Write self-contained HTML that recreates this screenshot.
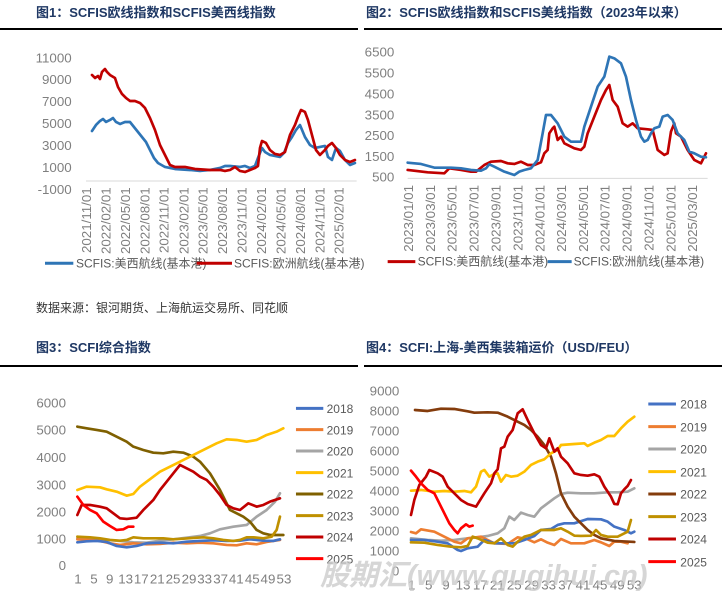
<!DOCTYPE html>
<html><head><meta charset="utf-8"><style>
body{margin:0;width:722px;height:599px;background:#fff;overflow:hidden}
svg{display:block}
text{font-family:"Liberation Sans","Noto Sans CJK SC",sans-serif}
.t{font-weight:bold;fill:#1f3864;font-size:13px}
.ax{fill:#7f7f7f;font-size:40px}
.lg{fill:#595959;font-size:36px}
polyline{fill:none;stroke-width:8;stroke-linejoin:round;stroke-linecap:round}
</style></head><body>
<svg width="722" height="599" viewBox="0 0 722 599">
<text x="36" y="17" class="t">图1：SCFIS欧线指数和SCFIS美西线指数</text>
<text x="366" y="17" class="t">图2：SCFIS欧线指数和SCFIS美线指数（2023年以来）</text>
<rect x="0" y="28" width="358" height="2" fill="#000"/>
<rect x="364" y="28" width="358" height="2" fill="#000"/>
<text x="36" y="312" font-size="12" fill="#333">数据来源：银河期货、上海航运交易所、同花顺</text>
<text x="36" y="352" class="t">图3：SCFI综合指数</text>
<text x="366" y="352" class="t">图4：SCFI:上海-美西集装箱运价（USD/FEU）</text>
<rect x="0" y="365" width="358" height="2" fill="#000"/>
<rect x="364" y="365" width="358" height="2" fill="#000"/>

<!-- Panel 1 -->
<g transform="scale(0.3333)">
<g class="ax" text-anchor="end">
<text x="215" y="188">11000</text><text x="215" y="252">9000</text><text x="215" y="318">7000</text><text x="215" y="384">5000</text><text x="215" y="450">3000</text><text x="215" y="516">1000</text><text x="215" y="582">-1000</text>
</g>
<line x1="258" y1="543" x2="1070" y2="543" stroke="#d9d9d9" stroke-width="3"/>
<g class="ax" text-anchor="end" font-size="38">
<text transform="translate(273,562) rotate(-90)">2021/11/01</text>
<text transform="translate(331,562) rotate(-90)">2022/02/01</text>
<text transform="translate(390,562) rotate(-90)">2022/05/01</text>
<text transform="translate(448,562) rotate(-90)">2022/08/01</text>
<text transform="translate(506,562) rotate(-90)">2022/11/01</text>
<text transform="translate(565,562) rotate(-90)">2023/02/01</text>
<text transform="translate(623,562) rotate(-90)">2023/05/01</text>
<text transform="translate(681,562) rotate(-90)">2023/08/01</text>
<text transform="translate(740,562) rotate(-90)">2023/11/01</text>
<text transform="translate(798,562) rotate(-90)">2024/02/01</text>
<text transform="translate(856,562) rotate(-90)">2024/05/01</text>
<text transform="translate(915,562) rotate(-90)">2024/08/01</text>
<text transform="translate(973,562) rotate(-90)">2024/11/01</text>
<text transform="translate(1031,562) rotate(-90)">2025/02/01</text>
</g>
<polyline stroke="#2e75b6" points="276,393 288,375 300,363 309,357 318,366 330,360 339,354 348,366 360,372 375,366 390,366 402,381 414,396 426,411 438,426 450,450 462,474 474,489 495,501 525,507 570,510 600,513 630,510 660,504 675,498 690,498 720,501 735,498 750,504 765,498 774,474 786,444 795,456 810,465 840,471 852,459 864,429 876,411 888,390 900,375 915,411 930,435 945,444 960,441 975,438 984,471 996,480 1008,444 1020,453 1035,480 1050,495 1065,489"/>
<polyline stroke="#c00000" points="276,225 285,234 294,228 300,237 306,216 315,207 321,216 330,225 345,234 354,261 366,282 378,294 390,303 405,303 420,309 435,324 450,354 465,390 480,435 495,465 510,495 525,501 555,501 585,507 630,510 660,510 675,513 690,510 705,501 720,513 735,516 750,510 765,504 774,498 780,444 786,423 798,429 810,450 825,462 840,465 855,456 870,405 885,375 894,351 903,330 915,336 924,360 936,405 948,450 960,465 975,450 984,438 996,429 1008,444 1020,465 1035,480 1050,486 1065,480"/>
<line x1="135" y1="790" x2="220" y2="790" stroke="#2e75b6" stroke-width="9"/>
<text x="228" y="802" class="lg">SCFIS:美西航线(基本港)</text>
<line x1="590" y1="790" x2="696" y2="790" stroke="#c00000" stroke-width="9"/>
<text x="702" y="802" class="lg">SCFIS:欧洲航线(基本港)</text>
</g>

<!-- Panel 2 -->
<g transform="translate(361,0) scale(0.3333)">
<g class="ax" text-anchor="end">
<text x="100" y="170">6500</text><text x="100" y="233">5500</text><text x="100" y="296">4500</text><text x="100" y="358">3500</text><text x="100" y="420">2500</text><text x="100" y="483">1500</text><text x="100" y="545">500</text>
</g>
<line x1="140" y1="535" x2="1040" y2="535" stroke="#d9d9d9" stroke-width="3"/>
<g class="ax" text-anchor="end" font-size="38">
<text transform="translate(156,555) rotate(-90)">2023/01/01</text>
<text transform="translate(222,555) rotate(-90)">2023/03/01</text>
<text transform="translate(287,555) rotate(-90)">2023/05/01</text>
<text transform="translate(353,555) rotate(-90)">2023/07/01</text>
<text transform="translate(418,555) rotate(-90)">2023/09/01</text>
<text transform="translate(484,555) rotate(-90)">2023/11/01</text>
<text transform="translate(550,555) rotate(-90)">2024/01/01</text>
<text transform="translate(615,555) rotate(-90)">2024/03/01</text>
<text transform="translate(681,555) rotate(-90)">2024/05/01</text>
<text transform="translate(746,555) rotate(-90)">2024/07/01</text>
<text transform="translate(812,555) rotate(-90)">2024/09/01</text>
<text transform="translate(877,555) rotate(-90)">2024/11/01</text>
<text transform="translate(943,555) rotate(-90)">2025/01/01</text>
<text transform="translate(1008,555) rotate(-90)">2025/03/01</text>
</g>
<polyline stroke="#c00000" points="140,510 200,517 250,520 265,505 300,510 330,515 345,515 370,495 390,485 420,483 440,490 460,492 480,485 500,495 520,495 540,487 550,460 560,450 565,400 575,385 580,380 590,420 600,410 610,430 640,445 660,450 670,440 680,400 700,350 720,300 735,270 745,255 755,300 770,320 785,370 800,380 815,370 830,385 860,388 875,390 890,450 910,465 920,460 930,395 940,370 945,400 960,410 980,450 1000,480 1020,490 1035,460"/>
<polyline stroke="#2e75b6" points="140,488 180,492 220,503 270,503 300,505 330,510 360,512 375,505 385,493 400,500 430,515 460,525 475,515 490,510 510,505 530,480 545,400 555,345 570,345 590,370 610,410 630,425 660,425 670,380 690,320 710,260 730,230 745,170 760,175 780,190 795,230 810,300 825,360 840,410 850,425 860,420 870,400 880,385 895,380 905,350 920,345 935,360 950,400 970,420 985,455 1000,460 1020,470 1035,472"/>
<line x1="80" y1="785" x2="163" y2="785" stroke="#c00000" stroke-width="9"/>
<text x="170" y="797" class="lg">SCFIS:美西航线(基本港)</text>
<line x1="560" y1="785" x2="632" y2="785" stroke="#2e75b6" stroke-width="9"/>
<text x="638" y="797" class="lg">SCFIS:欧洲航线(基本港)</text>
</g>

<!-- Panel 3 -->
<g transform="translate(0,330) scale(0.3333)">
<g class="ax" text-anchor="end">
<text x="198" y="232">6000</text><text x="198" y="314">5000</text><text x="198" y="396">4000</text><text x="198" y="478">3000</text><text x="198" y="559">2000</text><text x="198" y="640">1000</text><text x="198" y="720">0</text>
</g>
<g class="ax" text-anchor="middle" font-size="38">
<text x="234" y="760">1</text><text x="282" y="760">5</text><text x="329" y="760">9</text><text x="377" y="760">13</text><text x="424" y="760">17</text><text x="472" y="760">21</text><text x="519" y="760">25</text><text x="567" y="760">29</text><text x="614" y="760">33</text><text x="662" y="760">37</text><text x="709" y="760">41</text><text x="757" y="760">45</text><text x="804" y="760">49</text><text x="852" y="760">53</text>
</g>
<polyline stroke="#a5a5a5" points="232,625 280,628 320,630 360,633 400,637 440,638 480,632 520,628 560,623 600,618 630,610 660,598 700,590 740,585 770,560 800,540 825,515 840,490"/>
<polyline stroke="#ed7d31" points="232,628 270,630 300,633 330,640 360,645 400,640 440,643 480,642 520,638 560,640 600,638 640,640 680,645 710,646 740,640 770,643 800,636 840,630"/>
<polyline stroke="#4472c4" points="232,637 260,634 290,633 320,636 350,648 380,652 410,648 440,640 480,638 520,640 560,635 600,633 640,631 680,633 720,632 750,628 790,632 820,633 840,628"/>
<polyline stroke="#7f6000" points="232,290 260,295 290,300 320,305 350,320 380,335 400,350 430,360 460,368 490,370 520,365 550,368 580,380 600,395 630,430 660,480 690,540 710,550 730,560 750,575 770,600 790,610 810,615 850,615"/>
<polyline stroke="#ffc000" points="232,480 260,470 300,472 320,478 350,485 380,497 400,492 420,470 440,455 460,440 480,425 510,410 540,395 560,385 590,370 620,355 650,340 680,328 710,330 740,335 770,330 800,315 830,305 850,295"/>
<polyline stroke="#bf9000" points="232,620 270,622 300,625 330,630 360,632 380,630 400,622 430,625 460,625 490,625 520,628 550,626 580,624 610,622 640,625 670,630 700,633 720,630 740,622 760,622 790,625 815,620 830,600 840,560"/>
<polyline stroke="#c00000" points="232,555 245,525 270,525 300,530 320,535 340,550 360,565 380,567 410,563 430,540 460,510 480,480 500,455 520,430 540,405 560,415 580,425 600,440 620,450 640,470 660,495 680,525 700,535 720,540 745,520 770,530 790,525 810,515 840,505"/>
<polyline stroke="#ff0000" points="232,500 250,525 270,540 290,550 310,575 330,588 350,600 370,598 385,590 400,590"/>
<g class="lg" font-size="40">
<line x1="888" y1="235" x2="970" y2="235" stroke="#4472c4" stroke-width="9"/><text x="980" y="249">2018</text>
<line x1="888" y1="299" x2="970" y2="299" stroke="#ed7d31" stroke-width="9"/><text x="980" y="313">2019</text>
<line x1="888" y1="363" x2="970" y2="363" stroke="#a5a5a5" stroke-width="9"/><text x="980" y="377">2020</text>
<line x1="888" y1="428" x2="970" y2="428" stroke="#ffc000" stroke-width="9"/><text x="980" y="442">2021</text>
<line x1="888" y1="492" x2="970" y2="492" stroke="#7f6000" stroke-width="9"/><text x="980" y="506">2022</text>
<line x1="888" y1="557" x2="970" y2="557" stroke="#bf9000" stroke-width="9"/><text x="980" y="571">2023</text>
<line x1="888" y1="621" x2="970" y2="621" stroke="#c00000" stroke-width="9"/><text x="980" y="635">2024</text>
<line x1="888" y1="686" x2="970" y2="686" stroke="#ff0000" stroke-width="9"/><text x="980" y="700">2025</text>
</g>
</g>

<!-- Panel 4 -->
<g transform="translate(361,330) scale(0.3333)">
<g class="ax" text-anchor="end">
<text x="115" y="196">9000</text><text x="115" y="256">8000</text><text x="115" y="316">7000</text><text x="115" y="376">6000</text><text x="115" y="436">5000</text><text x="115" y="496">4000</text><text x="115" y="556">3000</text><text x="115" y="616">2000</text><text x="115" y="676">1000</text><text x="115" y="736">0</text>
</g>
<g class="ax" text-anchor="middle" font-size="38">
<text x="152" y="778">1</text><text x="203" y="778">5</text><text x="255" y="778">9</text><text x="306" y="778">13</text><text x="358" y="778">17</text><text x="409" y="778">21</text><text x="460" y="778">25</text><text x="512" y="778">29</text><text x="563" y="778">33</text><text x="614" y="778">37</text><text x="666" y="778">41</text><text x="717" y="778">45</text><text x="769" y="778">49</text><text x="820" y="778">53</text>
</g>
<polyline stroke="#a5a5a5" points="150,625 200,630 240,632 280,630 320,625 350,622 380,618 410,610 430,595 445,560 460,570 480,548 500,555 520,560 540,535 560,520 580,505 600,492 620,488 660,490 700,490 740,487 770,487 800,485 820,475"/>
<polyline stroke="#ed7d31" points="150,606 165,610 180,598 220,605 250,620 280,635 300,640 320,625 360,620 400,640 440,642 470,622 500,628 520,637 540,628 560,638 580,645 600,627 630,640 670,640 700,630 720,637 745,648 760,635 780,635 800,640"/>
<polyline stroke="#4472c4" points="150,630 190,630 230,635 260,640 290,660 300,663 320,655 350,650 370,630 400,640 430,640 460,640 490,630 520,618 540,600 570,597 590,585 610,580 640,580 680,567 720,568 740,575 760,590 790,600 810,610 820,605"/>
<polyline stroke="#843c0c" points="162,240 200,243 240,236 280,237 320,244 340,248 380,247 410,248 440,260 470,275 490,285 510,300 530,320 550,345 570,380 585,430 600,490 620,530 640,560 660,580 680,600 700,615 720,625 760,633 820,636"/>
<polyline stroke="#ffc000" points="150,482 180,480 220,485 250,483 280,485 310,483 330,487 345,470 360,425 370,420 385,440 400,432 410,430 420,455 435,435 450,440 470,437 490,425 510,405 530,395 550,388 570,370 590,360 600,345 640,342 670,340 680,348 700,338 720,330 740,318 760,318 780,295 800,275 820,260"/>
<polyline stroke="#bf9000" points="150,637 190,638 230,645 270,650 300,652 320,648 335,620 350,625 380,638 400,640 420,625 440,645 455,650 470,635 490,620 510,615 540,600 580,600 600,595 620,605 640,617 660,618 690,617 705,600 720,615 740,620 770,620 800,605 810,570"/>
<polyline stroke="#c00000" points="150,555 160,510 175,465 195,440 205,420 230,430 245,440 260,470 280,490 300,510 320,522 345,530 370,490 390,460 400,430 410,418 420,355 430,350 440,320 455,300 470,250 485,238 500,270 520,310 540,345 555,355 565,325 580,365 590,355 600,380 620,400 640,430 660,435 680,437 700,433 715,440 730,470 750,500 760,522 770,523 780,490 790,478 800,468 810,450"/>
<polyline stroke="#ff0000" points="150,422 165,440 180,460 200,480 220,490 235,520 250,550 265,580 280,600 290,610 300,595 315,583 325,590 335,587"/>
<g class="lg" font-size="40">
<line x1="862" y1="222" x2="945" y2="222" stroke="#4472c4" stroke-width="9"/><text x="958" y="236">2018</text>
<line x1="862" y1="290" x2="945" y2="290" stroke="#ed7d31" stroke-width="9"/><text x="958" y="304">2019</text>
<line x1="862" y1="357" x2="945" y2="357" stroke="#a5a5a5" stroke-width="9"/><text x="958" y="371">2020</text>
<line x1="862" y1="425" x2="945" y2="425" stroke="#ffc000" stroke-width="9"/><text x="958" y="439">2021</text>
<line x1="862" y1="492" x2="945" y2="492" stroke="#843c0c" stroke-width="9"/><text x="958" y="506">2022</text>
<line x1="862" y1="560" x2="945" y2="560" stroke="#bf9000" stroke-width="9"/><text x="958" y="574">2023</text>
<line x1="862" y1="627" x2="945" y2="627" stroke="#c00000" stroke-width="9"/><text x="958" y="641">2024</text>
<line x1="862" y1="695" x2="945" y2="695" stroke="#ff0000" stroke-width="9"/><text x="958" y="709">2025</text>
</g>
</g>

<text x="320" y="585" font-size="29" font-weight="bold" font-style="italic" fill="#c8c8c8" fill-opacity="0.75" font-family="Liberation Sans, Noto Sans CJK SC, sans-serif">股期汇(www.qugihui.cn)</text>
</svg>
</body></html>
